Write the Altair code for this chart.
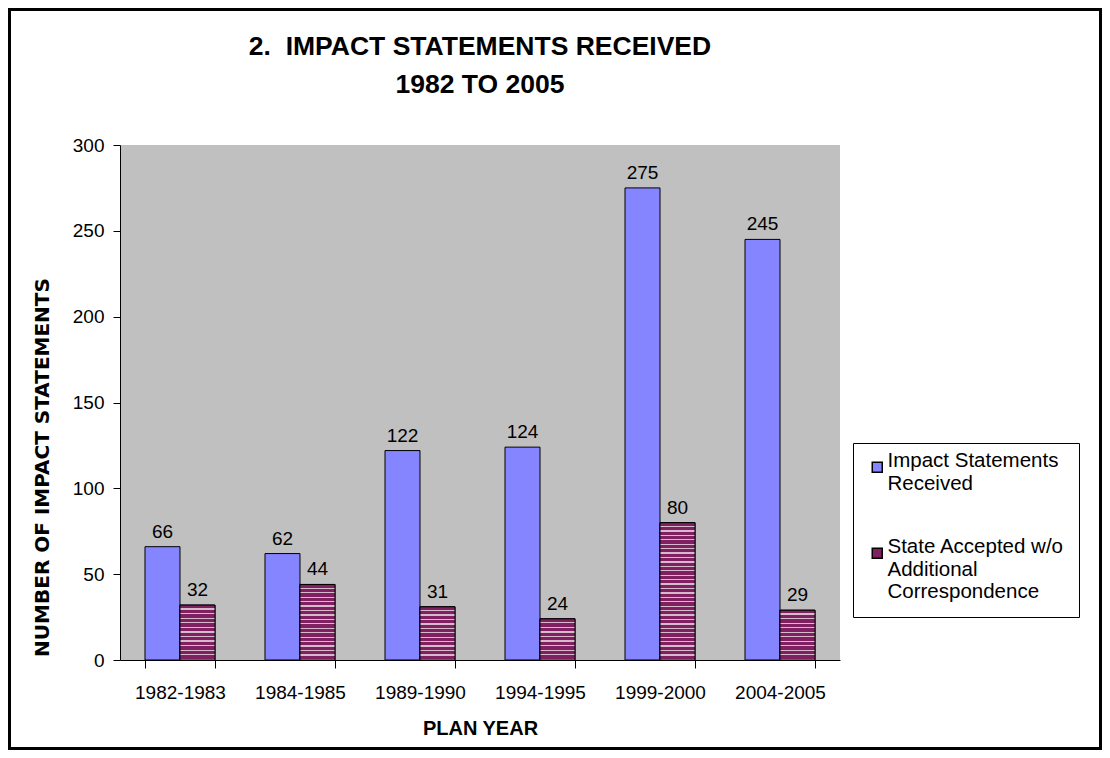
import altair as alt
import pandas as pd

periods = ["1982-1983", "1984-1985", "1989-1990", "1994-1995", "1999-2000", "2004-2005"]
received = [66, 62, 122, 124, 275, 245]
accepted = [32, 44, 31, 24, 80, 29]
series = ["Impact Statements|Received", "State Accepted w/o|Additional|Correspondence"]
colors = ["#8585ff", "#7f2060"]
title_lines = ["2.\u00a0 IMPACT STATEMENTS RECEIVED", "1982 TO 2005"]

rows = []
for p, r, a in zip(periods, received, accepted):
    rows.append({"period": p, "series": series[0], "value": r})
    rows.append({"period": p, "series": series[1], "value": a})
df = pd.DataFrame(rows)

FONT = "Liberation Sans"
W, H = 720, 515
YMAX = 300

xenc = alt.X("period:N", sort=periods,
             scale=alt.Scale(paddingInner=0.4167, paddingOuter=0.2083),
             axis=alt.Axis(title="PLAN YEAR", labelAngle=0, tickBand="extent",
                           labelFontSize=19, labelFont=FONT, labelColor="black",
                           labelPadding=15, tickSize=8, tickColor="black",
                           domainColor="black", titleFont=FONT, titleFontSize=20,
                           titleFontWeight="bold", titlePadding=16, titleColor="black"))
xoff = alt.XOffset("series:N", scale=alt.Scale(domain=series, paddingInner=0, paddingOuter=0))
yenc = alt.Y("value:Q", scale=alt.Scale(domain=[0, YMAX]),
             axis=alt.Axis(title="NUMBER OF IMPACT STATEMENTS", values=[0, 50, 100, 150, 200, 250, 300],
                           grid=False, labelFontSize=19, labelFont=FONT, labelColor="black",
                           tickSize=7, tickColor="black", domainColor="black", labelPadding=9,
                           titleFont="DejaVu Sans", titleFontSize=20, titleFontWeight="bold",
                           titleColor="black", titleX=-78, titleY=322, titleAngle=270,
                           titleAlign="center", titleBaseline="middle"))

one = pd.DataFrame({"a": [0]})
frame = alt.Chart(one).mark_rect(
    fill="white", fillOpacity=0, stroke="black", strokeWidth=3
).encode(x=alt.value(-110.5), x2=alt.value(980.5), y=alt.value(-135.5), y2=alt.value(603.5))

title1 = alt.Chart(one).mark_text(font=FONT, fontSize=26.5, fontWeight="bold", color="black",
                                  baseline="middle", align="center").encode(
    x=alt.value(W / 2), y=alt.value(-98), text=alt.value(title_lines[0]))
title2 = alt.Chart(one).mark_text(font=FONT, fontSize=26.5, fontWeight="bold", color="black",
                                  baseline="middle", align="center").encode(
    x=alt.value(W / 2), y=alt.value(-60), text=alt.value(title_lines[1]))

bars = alt.Chart(df).mark_bar(stroke="black", strokeWidth=1).encode(
    x=xenc, xOffset=xoff, y=yenc,
    color=alt.Color("series:N", scale=alt.Scale(domain=series, range=colors),
                    legend=alt.Legend(title=None, orient="none", legendX=733, legendY=298,
                                      labelExpr="split(datum.label, '|')",
                                      labelFont=FONT, labelFontSize=20.5, labelColor="black",
                                      labelLimit=400, symbolType="square", symbolSize=100,
                                      symbolStrokeColor="black", symbolStrokeWidth=1.5,
                                      symbolOpacity=1, padding=14, rowPadding=42,
                                      strokeColor="black", fillColor="white",
                                      labelBaseline="alphabetic", labelOffset=0))
)

# horizontal light stripes on the maroon bars (texture only)
stripe_layers = []
for p, a in zip(periods, accepted):
    h = a * H / YMAX
    n = max(1, round(h / 4.4))
    stops = []
    for k in range(n):
        s = k / n
        stops.append(alt.GradientStop(offset=s, color="#7f2060"))
        stops.append(alt.GradientStop(offset=s + 0.72 / n, color="#7f2060"))
        stops.append(alt.GradientStop(offset=s + 0.72 / n, color="#d8b8cc"))
        stops.append(alt.GradientStop(offset=min(1, s + 1 / n), color="#d8b8cc"))
    grad = alt.LinearGradient(gradient="linear", x1=0, y1=0, x2=0, y2=1, stops=stops)
    layer = alt.Chart(df).transform_filter(
        (alt.datum.period == p) & (alt.datum.series == series[1])
    ).mark_bar(stroke="black", strokeWidth=1, color=grad).encode(x=xenc, xOffset=xoff, y=yenc)
    stripe_layers.append(layer)

labels = alt.Chart(df).mark_text(baseline="bottom", dy=-5, fontSize=19, font=FONT, color="black").encode(
    x=xenc, xOffset=xoff, y=yenc, text="value:Q"
)

chart = alt.layer(frame, title1, title2, bars, *stripe_layers, labels).properties(
    width=W, height=H,
    autosize=alt.AutoSizeParams(type="none"),
    padding={"left": 112, "top": 137, "right": 262, "bottom": 90},
).configure(background="white").configure_view(fill="#c0c0c0", stroke=None)

chart.save("out.html", embed_options={"renderer": "svg", "actions": False})
